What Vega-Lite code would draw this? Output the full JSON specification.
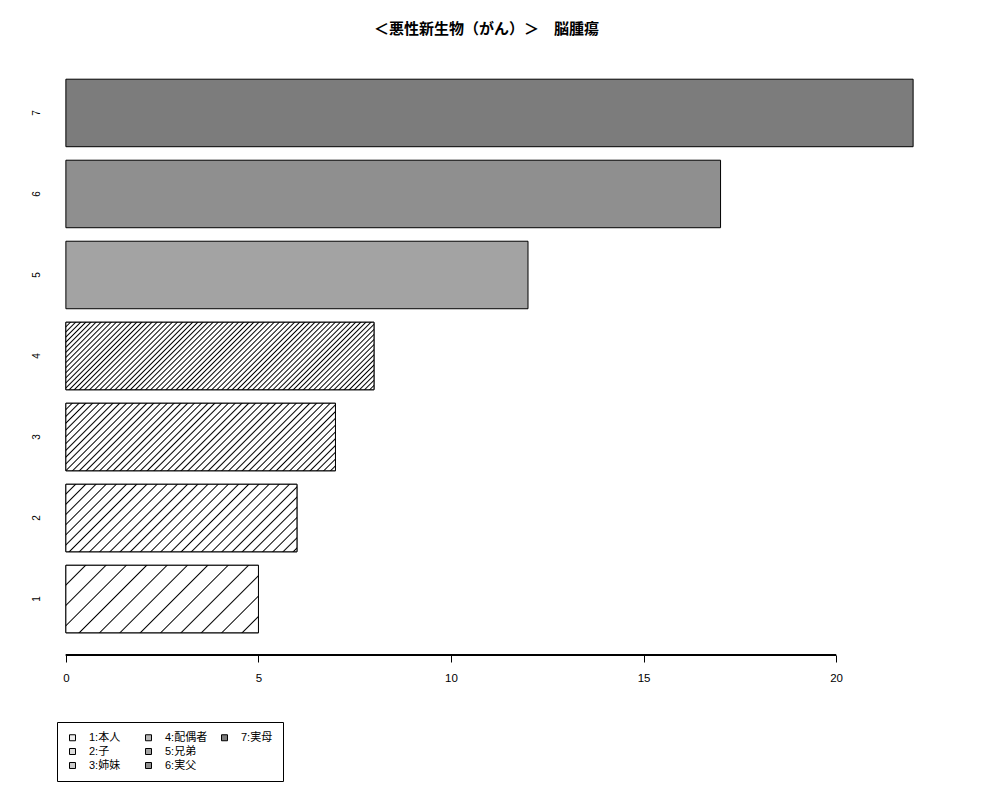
{
  "$schema": "https://vega.github.io/schema/vega-lite/v6.json",
  "width": 915,
  "height": 598,
  "autosize": {"type": "none"},
  "padding": {"left": 32, "top": 57, "right": 53, "bottom": 145},
  "background": "white",
  "config": {
    "view": {"stroke": null},
    "font": "Liberation Sans, Noto Sans CJK JP, sans-serif"
  },
  "title": {
    "text": "＜悪性新生物（がん）＞　脳腫瘍",
    "fontSize": 15,
    "fontWeight": "bold",
    "color": "black",
    "anchor": "middle",
    "offset": 20,
    "dx": -3,
    "font": "Liberation Sans, Noto Sans CJK JP, sans-serif"
  },
  "data": {
    "values": [
      {"k": "1", "label": "1:本人", "v": 5},
      {"k": "2", "label": "2:子", "v": 6},
      {"k": "3", "label": "3:姉妹", "v": 7},
      {"k": "4", "label": "4:配偶者", "v": 8},
      {"k": "5", "label": "5:兄弟", "v": 12},
      {"k": "6", "label": "6:実父", "v": 17},
      {"k": "7", "label": "7:実母", "v": 22}
    ]
  },
  "layer": [
    {
      "mark": {"type": "bar", "strokeWidth": 1},
      "encoding": {
        "y": {
          "field": "k",
          "type": "ordinal",
          "scale": {"domain": ["7", "6", "5", "4", "3", "2", "1"], "paddingInner": 0.1667, "paddingOuter": 0.274},
          "axis": {
            "title": null,
            "domain": false,
            "ticks": false,
            "tickSize": 0,
            "labelAngle": 270,
            "labelAlign": "center",
            "labelBaseline": "alphabetic",
            "labelPadding": -7,
            "labelFontSize": 10,
            "labelColor": "black"
          }
        },
        "x": {
          "field": "v",
          "type": "quantitative",
          "scale": {"domain": [-0.88, 22.88], "nice": false, "zero": false},
          "axis": {
            "title": null,
            "domain": false,
            "grid": false,
            "values": [0, 5, 10, 15, 20],
            "format": "d",
            "tickSize": 7,
            "tickColor": "black",
            "tickWidth": 1,
            "labelFontSize": 11.5,
            "labelPadding": 10,
            "labelColor": "black"
          }
        },
        "x2": {"datum": 0},
        "fill": {
          "field": "label",
          "type": "nominal",
          "scale": {
            "domain": ["1:本人", "2:子", "3:姉妹", "4:配偶者", "5:兄弟", "6:実父", "7:実母", " "],
            "range": ["#eeeeee", "#dcdcdc", "#cacaca", "#b8b8b8", "#a3a3a3", "#8f8f8f", "#7c7c7c", "rgba(0,0,0,0)"]
          },
          "legend": {
            "title": null,
            "orient": "none",
            "legendX": 25,
            "legendY": 665,
            "columns": 3,
            "gridAlign": "all",
            "columnPadding": 11,
            "rowPadding": 2,
            "padding": 10,
            "strokeColor": "black",
            "symbolType": "square",
            "symbolSize": 36,
            "symbolStrokeWidth": 1,
            "labelFontSize": 11,
            "labelOffset": 11,
            "labelColor": "black",
            "labelFont": "Liberation Sans, Noto Sans CJK JP, sans-serif"
          }
        },
        "stroke": {
          "field": "label",
          "type": "nominal",
          "scale": {
            "domain": ["1:本人", "2:子", "3:姉妹", "4:配偶者", "5:兄弟", "6:実父", "7:実母", " "],
            "range": ["black", "black", "black", "black", "black", "black", "black", "rgba(0,0,0,0)"]
          }
        }
      }
    },
    {
      "transform": [{"filter": "datum.k == '1'"}],
      "mark": {
        "type": "bar",
        "stroke": "black",
        "strokeWidth": 1,
        "fill": {
          "gradient": "linear",
          "x1": 0, "y1": 0, "x2": 1.2028, "y2": 0.4217,
          "stops": [
            {"offset": 0, "color": "#fff"},
            {"offset": 0.0704, "color": "#fff"}, {"offset": 0.0758, "color": "#000"}, {"offset": 0.0812, "color": "#fff"},
            {"offset": 0.1487, "color": "#fff"}, {"offset": 0.1541, "color": "#000"}, {"offset": 0.1595, "color": "#fff"},
            {"offset": 0.2270, "color": "#fff"}, {"offset": 0.2324, "color": "#000"}, {"offset": 0.2378, "color": "#fff"},
            {"offset": 0.3053, "color": "#fff"}, {"offset": 0.3107, "color": "#000"}, {"offset": 0.3161, "color": "#fff"},
            {"offset": 0.3836, "color": "#fff"}, {"offset": 0.3890, "color": "#000"}, {"offset": 0.3944, "color": "#fff"},
            {"offset": 0.4619, "color": "#fff"}, {"offset": 0.4673, "color": "#000"}, {"offset": 0.4727, "color": "#fff"},
            {"offset": 0.5402, "color": "#fff"}, {"offset": 0.5456, "color": "#000"}, {"offset": 0.5510, "color": "#fff"},
            {"offset": 0.6185, "color": "#fff"}, {"offset": 0.6239, "color": "#000"}, {"offset": 0.6293, "color": "#fff"},
            {"offset": 0.6968, "color": "#fff"}, {"offset": 0.7022, "color": "#000"}, {"offset": 0.7076, "color": "#fff"},
            {"offset": 0.7751, "color": "#fff"}, {"offset": 0.7805, "color": "#000"}, {"offset": 0.7859, "color": "#fff"},
            {"offset": 0.8534, "color": "#fff"}, {"offset": 0.8588, "color": "#000"}, {"offset": 0.8642, "color": "#fff"},
            {"offset": 0.9318, "color": "#fff"}, {"offset": 0.9372, "color": "#000"}, {"offset": 0.9426, "color": "#fff"},
            {"offset": 1, "color": "#fff"}
          ]
        }
      },
      "encoding": {
        "y": {"field": "k", "type": "ordinal"},
        "x": {"field": "v", "type": "quantitative"},
        "x2": {"datum": 0}
      }
    },
    {
      "transform": [{"filter": "datum.k == '2'"}],
      "mark": {
        "type": "bar",
        "stroke": "black",
        "strokeWidth": 1,
        "fill": {
          "gradient": "linear",
          "x1": 0, "y1": 0, "x2": 1.1906, "y2": 0.3479,
          "stops": [
            {"offset": 0, "color": "#fff"},
            {"offset": 0.0279, "color": "#fff"}, {"offset": 0.0326, "color": "#000"}, {"offset": 0.0373, "color": "#fff"},
            {"offset": 0.0620, "color": "#fff"}, {"offset": 0.0667, "color": "#000"}, {"offset": 0.0714, "color": "#fff"},
            {"offset": 0.0961, "color": "#fff"}, {"offset": 0.1008, "color": "#000"}, {"offset": 0.1055, "color": "#fff"},
            {"offset": 0.1302, "color": "#fff"}, {"offset": 0.1349, "color": "#000"}, {"offset": 0.1396, "color": "#fff"},
            {"offset": 0.1643, "color": "#fff"}, {"offset": 0.1690, "color": "#000"}, {"offset": 0.1737, "color": "#fff"},
            {"offset": 0.1984, "color": "#fff"}, {"offset": 0.2031, "color": "#000"}, {"offset": 0.2078, "color": "#fff"},
            {"offset": 0.2325, "color": "#fff"}, {"offset": 0.2372, "color": "#000"}, {"offset": 0.2419, "color": "#fff"},
            {"offset": 0.2666, "color": "#fff"}, {"offset": 0.2713, "color": "#000"}, {"offset": 0.2760, "color": "#fff"},
            {"offset": 0.3007, "color": "#fff"}, {"offset": 0.3054, "color": "#000"}, {"offset": 0.3101, "color": "#fff"},
            {"offset": 0.3348, "color": "#fff"}, {"offset": 0.3395, "color": "#000"}, {"offset": 0.3442, "color": "#fff"},
            {"offset": 0.3689, "color": "#fff"}, {"offset": 0.3736, "color": "#000"}, {"offset": 0.3783, "color": "#fff"},
            {"offset": 0.4030, "color": "#fff"}, {"offset": 0.4077, "color": "#000"}, {"offset": 0.4124, "color": "#fff"},
            {"offset": 0.4371, "color": "#fff"}, {"offset": 0.4418, "color": "#000"}, {"offset": 0.4465, "color": "#fff"},
            {"offset": 0.4712, "color": "#fff"}, {"offset": 0.4759, "color": "#000"}, {"offset": 0.4806, "color": "#fff"},
            {"offset": 0.5053, "color": "#fff"}, {"offset": 0.5100, "color": "#000"}, {"offset": 0.5147, "color": "#fff"},
            {"offset": 0.5394, "color": "#fff"}, {"offset": 0.5441, "color": "#000"}, {"offset": 0.5488, "color": "#fff"},
            {"offset": 0.5735, "color": "#fff"}, {"offset": 0.5782, "color": "#000"}, {"offset": 0.5829, "color": "#fff"},
            {"offset": 0.6076, "color": "#fff"}, {"offset": 0.6123, "color": "#000"}, {"offset": 0.6170, "color": "#fff"},
            {"offset": 0.6417, "color": "#fff"}, {"offset": 0.6464, "color": "#000"}, {"offset": 0.6511, "color": "#fff"},
            {"offset": 0.6758, "color": "#fff"}, {"offset": 0.6805, "color": "#000"}, {"offset": 0.6852, "color": "#fff"},
            {"offset": 0.7099, "color": "#fff"}, {"offset": 0.7146, "color": "#000"}, {"offset": 0.7193, "color": "#fff"},
            {"offset": 0.7440, "color": "#fff"}, {"offset": 0.7487, "color": "#000"}, {"offset": 0.7534, "color": "#fff"},
            {"offset": 0.7781, "color": "#fff"}, {"offset": 0.7828, "color": "#000"}, {"offset": 0.7875, "color": "#fff"},
            {"offset": 0.8122, "color": "#fff"}, {"offset": 0.8169, "color": "#000"}, {"offset": 0.8216, "color": "#fff"},
            {"offset": 0.8463, "color": "#fff"}, {"offset": 0.8510, "color": "#000"}, {"offset": 0.8557, "color": "#fff"},
            {"offset": 0.8804, "color": "#fff"}, {"offset": 0.8851, "color": "#000"}, {"offset": 0.8898, "color": "#fff"},
            {"offset": 0.9145, "color": "#fff"}, {"offset": 0.9192, "color": "#000"}, {"offset": 0.9239, "color": "#fff"},
            {"offset": 0.9486, "color": "#fff"}, {"offset": 0.9533, "color": "#000"}, {"offset": 0.9580, "color": "#fff"},
            {"offset": 0.9827, "color": "#fff"}, {"offset": 0.9874, "color": "#000"}, {"offset": 0.9921, "color": "#fff"},
            {"offset": 1, "color": "#fff"}
          ]
        }
      },
      "encoding": {
        "y": {"field": "k", "type": "ordinal"},
        "x": {"field": "v", "type": "quantitative"},
        "x2": {"datum": 0}
      }
    },
    {
      "transform": [{"filter": "datum.k == '3'"}],
      "mark": {
        "type": "bar",
        "stroke": "black",
        "strokeWidth": 1,
        "fill": {
          "gradient": "linear",
          "x1": 0, "y1": 0, "x2": 1.1767, "y2": 0.2947,
          "stops": [
            {"offset": 0, "color": "#fff"},
            {"offset": 0.0144, "color": "#fff"}, {"offset": 0.0186, "color": "#000"}, {"offset": 0.0228, "color": "#fff"},
            {"offset": 0.0346, "color": "#fff"}, {"offset": 0.0388, "color": "#000"}, {"offset": 0.0430, "color": "#fff"},
            {"offset": 0.0547, "color": "#fff"}, {"offset": 0.0589, "color": "#000"}, {"offset": 0.0631, "color": "#fff"},
            {"offset": 0.0749, "color": "#fff"}, {"offset": 0.0791, "color": "#000"}, {"offset": 0.0833, "color": "#fff"},
            {"offset": 0.0950, "color": "#fff"}, {"offset": 0.0992, "color": "#000"}, {"offset": 0.1034, "color": "#fff"},
            {"offset": 0.1151, "color": "#fff"}, {"offset": 0.1193, "color": "#000"}, {"offset": 0.1235, "color": "#fff"},
            {"offset": 0.1353, "color": "#fff"}, {"offset": 0.1395, "color": "#000"}, {"offset": 0.1437, "color": "#fff"},
            {"offset": 0.1554, "color": "#fff"}, {"offset": 0.1596, "color": "#000"}, {"offset": 0.1638, "color": "#fff"},
            {"offset": 0.1756, "color": "#fff"}, {"offset": 0.1798, "color": "#000"}, {"offset": 0.1840, "color": "#fff"},
            {"offset": 0.1957, "color": "#fff"}, {"offset": 0.1999, "color": "#000"}, {"offset": 0.2041, "color": "#fff"},
            {"offset": 0.2158, "color": "#fff"}, {"offset": 0.2200, "color": "#000"}, {"offset": 0.2242, "color": "#fff"},
            {"offset": 0.2360, "color": "#fff"}, {"offset": 0.2402, "color": "#000"}, {"offset": 0.2444, "color": "#fff"},
            {"offset": 0.2561, "color": "#fff"}, {"offset": 0.2603, "color": "#000"}, {"offset": 0.2645, "color": "#fff"},
            {"offset": 0.2762, "color": "#fff"}, {"offset": 0.2804, "color": "#000"}, {"offset": 0.2846, "color": "#fff"},
            {"offset": 0.2964, "color": "#fff"}, {"offset": 0.3006, "color": "#000"}, {"offset": 0.3048, "color": "#fff"},
            {"offset": 0.3165, "color": "#fff"}, {"offset": 0.3207, "color": "#000"}, {"offset": 0.3249, "color": "#fff"},
            {"offset": 0.3367, "color": "#fff"}, {"offset": 0.3409, "color": "#000"}, {"offset": 0.3451, "color": "#fff"},
            {"offset": 0.3568, "color": "#fff"}, {"offset": 0.3610, "color": "#000"}, {"offset": 0.3652, "color": "#fff"},
            {"offset": 0.3769, "color": "#fff"}, {"offset": 0.3811, "color": "#000"}, {"offset": 0.3853, "color": "#fff"},
            {"offset": 0.3971, "color": "#fff"}, {"offset": 0.4013, "color": "#000"}, {"offset": 0.4055, "color": "#fff"},
            {"offset": 0.4172, "color": "#fff"}, {"offset": 0.4214, "color": "#000"}, {"offset": 0.4256, "color": "#fff"},
            {"offset": 0.4374, "color": "#fff"}, {"offset": 0.4416, "color": "#000"}, {"offset": 0.4458, "color": "#fff"},
            {"offset": 0.4575, "color": "#fff"}, {"offset": 0.4617, "color": "#000"}, {"offset": 0.4659, "color": "#fff"},
            {"offset": 0.4776, "color": "#fff"}, {"offset": 0.4818, "color": "#000"}, {"offset": 0.4860, "color": "#fff"},
            {"offset": 0.4978, "color": "#fff"}, {"offset": 0.5020, "color": "#000"}, {"offset": 0.5062, "color": "#fff"},
            {"offset": 0.5179, "color": "#fff"}, {"offset": 0.5221, "color": "#000"}, {"offset": 0.5263, "color": "#fff"},
            {"offset": 0.5380, "color": "#fff"}, {"offset": 0.5422, "color": "#000"}, {"offset": 0.5464, "color": "#fff"},
            {"offset": 0.5582, "color": "#fff"}, {"offset": 0.5624, "color": "#000"}, {"offset": 0.5666, "color": "#fff"},
            {"offset": 0.5783, "color": "#fff"}, {"offset": 0.5825, "color": "#000"}, {"offset": 0.5867, "color": "#fff"},
            {"offset": 0.5985, "color": "#fff"}, {"offset": 0.6027, "color": "#000"}, {"offset": 0.6069, "color": "#fff"},
            {"offset": 0.6186, "color": "#fff"}, {"offset": 0.6228, "color": "#000"}, {"offset": 0.6270, "color": "#fff"},
            {"offset": 0.6387, "color": "#fff"}, {"offset": 0.6429, "color": "#000"}, {"offset": 0.6471, "color": "#fff"},
            {"offset": 0.6589, "color": "#fff"}, {"offset": 0.6631, "color": "#000"}, {"offset": 0.6673, "color": "#fff"},
            {"offset": 0.6790, "color": "#fff"}, {"offset": 0.6832, "color": "#000"}, {"offset": 0.6874, "color": "#fff"},
            {"offset": 0.6992, "color": "#fff"}, {"offset": 0.7034, "color": "#000"}, {"offset": 0.7076, "color": "#fff"},
            {"offset": 0.7193, "color": "#fff"}, {"offset": 0.7235, "color": "#000"}, {"offset": 0.7277, "color": "#fff"},
            {"offset": 0.7394, "color": "#fff"}, {"offset": 0.7436, "color": "#000"}, {"offset": 0.7478, "color": "#fff"},
            {"offset": 0.7596, "color": "#fff"}, {"offset": 0.7638, "color": "#000"}, {"offset": 0.7680, "color": "#fff"},
            {"offset": 0.7797, "color": "#fff"}, {"offset": 0.7839, "color": "#000"}, {"offset": 0.7881, "color": "#fff"},
            {"offset": 0.7999, "color": "#fff"}, {"offset": 0.8041, "color": "#000"}, {"offset": 0.8083, "color": "#fff"},
            {"offset": 0.8200, "color": "#fff"}, {"offset": 0.8242, "color": "#000"}, {"offset": 0.8284, "color": "#fff"},
            {"offset": 0.8401, "color": "#fff"}, {"offset": 0.8443, "color": "#000"}, {"offset": 0.8485, "color": "#fff"},
            {"offset": 0.8603, "color": "#fff"}, {"offset": 0.8645, "color": "#000"}, {"offset": 0.8687, "color": "#fff"},
            {"offset": 0.8804, "color": "#fff"}, {"offset": 0.8846, "color": "#000"}, {"offset": 0.8888, "color": "#fff"},
            {"offset": 0.9005, "color": "#fff"}, {"offset": 0.9047, "color": "#000"}, {"offset": 0.9089, "color": "#fff"},
            {"offset": 0.9207, "color": "#fff"}, {"offset": 0.9249, "color": "#000"}, {"offset": 0.9291, "color": "#fff"},
            {"offset": 0.9408, "color": "#fff"}, {"offset": 0.9450, "color": "#000"}, {"offset": 0.9492, "color": "#fff"},
            {"offset": 0.9610, "color": "#fff"}, {"offset": 0.9652, "color": "#000"}, {"offset": 0.9694, "color": "#fff"},
            {"offset": 0.9811, "color": "#fff"}, {"offset": 0.9853, "color": "#000"}, {"offset": 0.9895, "color": "#fff"},
            {"offset": 1, "color": "#fff"}
          ]
        }
      },
      "encoding": {
        "y": {"field": "k", "type": "ordinal"},
        "x": {"field": "v", "type": "quantitative"},
        "x2": {"datum": 0}
      }
    },
    {
      "transform": [{"filter": "datum.k == '4'"}],
      "mark": {
        "type": "bar",
        "stroke": "black",
        "strokeWidth": 1,
        "fill": {
          "gradient": "linear",
          "x1": 0, "y1": 0, "x2": 1.1633, "y2": 0.2549,
          "stops": [
            {"offset": 0, "color": "#fff"},
            {"offset": 0.0085, "color": "#fff"}, {"offset": 0.0122, "color": "#000"}, {"offset": 0.0159, "color": "#fff"},
            {"offset": 0.0221, "color": "#fff"}, {"offset": 0.0258, "color": "#000"}, {"offset": 0.0295, "color": "#fff"},
            {"offset": 0.0356, "color": "#fff"}, {"offset": 0.0393, "color": "#000"}, {"offset": 0.0430, "color": "#fff"},
            {"offset": 0.0492, "color": "#fff"}, {"offset": 0.0529, "color": "#000"}, {"offset": 0.0566, "color": "#fff"},
            {"offset": 0.0628, "color": "#fff"}, {"offset": 0.0665, "color": "#000"}, {"offset": 0.0702, "color": "#fff"},
            {"offset": 0.0763, "color": "#fff"}, {"offset": 0.0800, "color": "#000"}, {"offset": 0.0837, "color": "#fff"},
            {"offset": 0.0899, "color": "#fff"}, {"offset": 0.0936, "color": "#000"}, {"offset": 0.0973, "color": "#fff"},
            {"offset": 0.1034, "color": "#fff"}, {"offset": 0.1071, "color": "#000"}, {"offset": 0.1108, "color": "#fff"},
            {"offset": 0.1170, "color": "#fff"}, {"offset": 0.1207, "color": "#000"}, {"offset": 0.1244, "color": "#fff"},
            {"offset": 0.1305, "color": "#fff"}, {"offset": 0.1342, "color": "#000"}, {"offset": 0.1379, "color": "#fff"},
            {"offset": 0.1441, "color": "#fff"}, {"offset": 0.1478, "color": "#000"}, {"offset": 0.1515, "color": "#fff"},
            {"offset": 0.1577, "color": "#fff"}, {"offset": 0.1614, "color": "#000"}, {"offset": 0.1651, "color": "#fff"},
            {"offset": 0.1712, "color": "#fff"}, {"offset": 0.1749, "color": "#000"}, {"offset": 0.1786, "color": "#fff"},
            {"offset": 0.1848, "color": "#fff"}, {"offset": 0.1885, "color": "#000"}, {"offset": 0.1922, "color": "#fff"},
            {"offset": 0.1983, "color": "#fff"}, {"offset": 0.2020, "color": "#000"}, {"offset": 0.2057, "color": "#fff"},
            {"offset": 0.2119, "color": "#fff"}, {"offset": 0.2156, "color": "#000"}, {"offset": 0.2193, "color": "#fff"},
            {"offset": 0.2255, "color": "#fff"}, {"offset": 0.2292, "color": "#000"}, {"offset": 0.2329, "color": "#fff"},
            {"offset": 0.2390, "color": "#fff"}, {"offset": 0.2427, "color": "#000"}, {"offset": 0.2464, "color": "#fff"},
            {"offset": 0.2526, "color": "#fff"}, {"offset": 0.2563, "color": "#000"}, {"offset": 0.2600, "color": "#fff"},
            {"offset": 0.2661, "color": "#fff"}, {"offset": 0.2698, "color": "#000"}, {"offset": 0.2735, "color": "#fff"},
            {"offset": 0.2797, "color": "#fff"}, {"offset": 0.2834, "color": "#000"}, {"offset": 0.2871, "color": "#fff"},
            {"offset": 0.2932, "color": "#fff"}, {"offset": 0.2969, "color": "#000"}, {"offset": 0.3006, "color": "#fff"},
            {"offset": 0.3068, "color": "#fff"}, {"offset": 0.3105, "color": "#000"}, {"offset": 0.3142, "color": "#fff"},
            {"offset": 0.3204, "color": "#fff"}, {"offset": 0.3241, "color": "#000"}, {"offset": 0.3278, "color": "#fff"},
            {"offset": 0.3339, "color": "#fff"}, {"offset": 0.3376, "color": "#000"}, {"offset": 0.3413, "color": "#fff"},
            {"offset": 0.3475, "color": "#fff"}, {"offset": 0.3512, "color": "#000"}, {"offset": 0.3549, "color": "#fff"},
            {"offset": 0.3610, "color": "#fff"}, {"offset": 0.3647, "color": "#000"}, {"offset": 0.3684, "color": "#fff"},
            {"offset": 0.3746, "color": "#fff"}, {"offset": 0.3783, "color": "#000"}, {"offset": 0.3820, "color": "#fff"},
            {"offset": 0.3882, "color": "#fff"}, {"offset": 0.3919, "color": "#000"}, {"offset": 0.3956, "color": "#fff"},
            {"offset": 0.4017, "color": "#fff"}, {"offset": 0.4054, "color": "#000"}, {"offset": 0.4091, "color": "#fff"},
            {"offset": 0.4153, "color": "#fff"}, {"offset": 0.4190, "color": "#000"}, {"offset": 0.4227, "color": "#fff"},
            {"offset": 0.4288, "color": "#fff"}, {"offset": 0.4325, "color": "#000"}, {"offset": 0.4362, "color": "#fff"},
            {"offset": 0.4424, "color": "#fff"}, {"offset": 0.4461, "color": "#000"}, {"offset": 0.4498, "color": "#fff"},
            {"offset": 0.4559, "color": "#fff"}, {"offset": 0.4596, "color": "#000"}, {"offset": 0.4633, "color": "#fff"},
            {"offset": 0.4695, "color": "#fff"}, {"offset": 0.4732, "color": "#000"}, {"offset": 0.4769, "color": "#fff"},
            {"offset": 0.4831, "color": "#fff"}, {"offset": 0.4868, "color": "#000"}, {"offset": 0.4905, "color": "#fff"},
            {"offset": 0.4966, "color": "#fff"}, {"offset": 0.5003, "color": "#000"}, {"offset": 0.5040, "color": "#fff"},
            {"offset": 0.5102, "color": "#fff"}, {"offset": 0.5139, "color": "#000"}, {"offset": 0.5176, "color": "#fff"},
            {"offset": 0.5237, "color": "#fff"}, {"offset": 0.5274, "color": "#000"}, {"offset": 0.5311, "color": "#fff"},
            {"offset": 0.5373, "color": "#fff"}, {"offset": 0.5410, "color": "#000"}, {"offset": 0.5447, "color": "#fff"},
            {"offset": 0.5508, "color": "#fff"}, {"offset": 0.5545, "color": "#000"}, {"offset": 0.5582, "color": "#fff"},
            {"offset": 0.5644, "color": "#fff"}, {"offset": 0.5681, "color": "#000"}, {"offset": 0.5718, "color": "#fff"},
            {"offset": 0.5780, "color": "#fff"}, {"offset": 0.5817, "color": "#000"}, {"offset": 0.5854, "color": "#fff"},
            {"offset": 0.5915, "color": "#fff"}, {"offset": 0.5952, "color": "#000"}, {"offset": 0.5989, "color": "#fff"},
            {"offset": 0.6051, "color": "#fff"}, {"offset": 0.6088, "color": "#000"}, {"offset": 0.6125, "color": "#fff"},
            {"offset": 0.6186, "color": "#fff"}, {"offset": 0.6223, "color": "#000"}, {"offset": 0.6260, "color": "#fff"},
            {"offset": 0.6322, "color": "#fff"}, {"offset": 0.6359, "color": "#000"}, {"offset": 0.6396, "color": "#fff"},
            {"offset": 0.6458, "color": "#fff"}, {"offset": 0.6495, "color": "#000"}, {"offset": 0.6532, "color": "#fff"},
            {"offset": 0.6593, "color": "#fff"}, {"offset": 0.6630, "color": "#000"}, {"offset": 0.6667, "color": "#fff"},
            {"offset": 0.6729, "color": "#fff"}, {"offset": 0.6766, "color": "#000"}, {"offset": 0.6803, "color": "#fff"},
            {"offset": 0.6864, "color": "#fff"}, {"offset": 0.6901, "color": "#000"}, {"offset": 0.6938, "color": "#fff"},
            {"offset": 0.7000, "color": "#fff"}, {"offset": 0.7037, "color": "#000"}, {"offset": 0.7074, "color": "#fff"},
            {"offset": 0.7135, "color": "#fff"}, {"offset": 0.7172, "color": "#000"}, {"offset": 0.7209, "color": "#fff"},
            {"offset": 0.7271, "color": "#fff"}, {"offset": 0.7308, "color": "#000"}, {"offset": 0.7345, "color": "#fff"},
            {"offset": 0.7407, "color": "#fff"}, {"offset": 0.7444, "color": "#000"}, {"offset": 0.7481, "color": "#fff"},
            {"offset": 0.7542, "color": "#fff"}, {"offset": 0.7579, "color": "#000"}, {"offset": 0.7616, "color": "#fff"},
            {"offset": 0.7678, "color": "#fff"}, {"offset": 0.7715, "color": "#000"}, {"offset": 0.7752, "color": "#fff"},
            {"offset": 0.7813, "color": "#fff"}, {"offset": 0.7850, "color": "#000"}, {"offset": 0.7887, "color": "#fff"},
            {"offset": 0.7949, "color": "#fff"}, {"offset": 0.7986, "color": "#000"}, {"offset": 0.8023, "color": "#fff"},
            {"offset": 0.8084, "color": "#fff"}, {"offset": 0.8121, "color": "#000"}, {"offset": 0.8158, "color": "#fff"},
            {"offset": 0.8220, "color": "#fff"}, {"offset": 0.8257, "color": "#000"}, {"offset": 0.8294, "color": "#fff"},
            {"offset": 0.8356, "color": "#fff"}, {"offset": 0.8393, "color": "#000"}, {"offset": 0.8430, "color": "#fff"},
            {"offset": 0.8491, "color": "#fff"}, {"offset": 0.8528, "color": "#000"}, {"offset": 0.8565, "color": "#fff"},
            {"offset": 0.8627, "color": "#fff"}, {"offset": 0.8664, "color": "#000"}, {"offset": 0.8701, "color": "#fff"},
            {"offset": 0.8762, "color": "#fff"}, {"offset": 0.8799, "color": "#000"}, {"offset": 0.8836, "color": "#fff"},
            {"offset": 0.8898, "color": "#fff"}, {"offset": 0.8935, "color": "#000"}, {"offset": 0.8972, "color": "#fff"},
            {"offset": 0.9034, "color": "#fff"}, {"offset": 0.9071, "color": "#000"}, {"offset": 0.9108, "color": "#fff"},
            {"offset": 0.9169, "color": "#fff"}, {"offset": 0.9206, "color": "#000"}, {"offset": 0.9243, "color": "#fff"},
            {"offset": 0.9305, "color": "#fff"}, {"offset": 0.9342, "color": "#000"}, {"offset": 0.9379, "color": "#fff"},
            {"offset": 0.9440, "color": "#fff"}, {"offset": 0.9477, "color": "#000"}, {"offset": 0.9514, "color": "#fff"},
            {"offset": 0.9576, "color": "#fff"}, {"offset": 0.9613, "color": "#000"}, {"offset": 0.9650, "color": "#fff"},
            {"offset": 0.9711, "color": "#fff"}, {"offset": 0.9748, "color": "#000"}, {"offset": 0.9785, "color": "#fff"},
            {"offset": 0.9847, "color": "#fff"}, {"offset": 0.9884, "color": "#000"}, {"offset": 0.9921, "color": "#fff"},
            {"offset": 1, "color": "#fff"}
          ]
        }
      },
      "encoding": {
        "y": {"field": "k", "type": "ordinal"},
        "x": {"field": "v", "type": "quantitative"},
        "x2": {"datum": 0}
      }
    },
    {
      "mark": {"type": "rule", "color": "black", "strokeWidth": 1},
      "encoding": {
        "x": {"datum": 0},
        "x2": {"datum": 20},
        "y": {"datum": "1", "type": "ordinal", "bandPosition": 1.329}
      }
    }
  ]
}
